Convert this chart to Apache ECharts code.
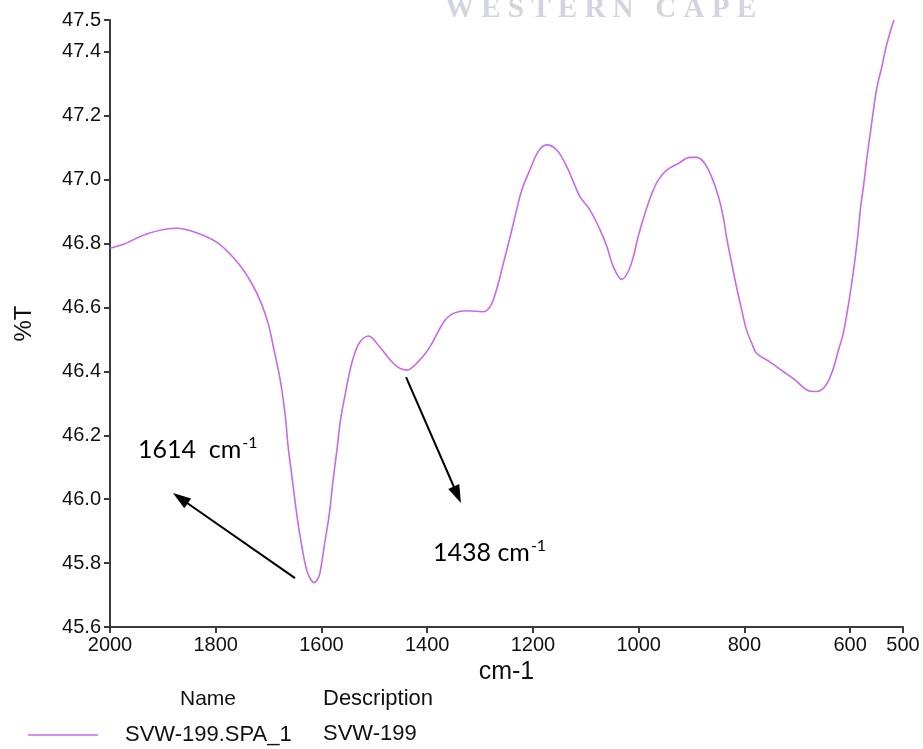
<!DOCTYPE html>
<html>
<head>
<meta charset="utf-8">
<title>SVW-199 FTIR spectrum</title>
<script src="https://cdn.jsdelivr.net/npm/echarts@6/dist/echarts.min.js"></script>
<style>
  html, body { margin: 0; padding: 0; background: #ffffff; }
  #chart { width: 923px; height: 749px; }
</style>
</head>
<body>
<div id="chart"></div>
<script>
// Wavenumbers (cm-1), high to low
const wavenumbers = [
  2000, 1972, 1928, 1874, 1833, 1795, 1757, 1732, 1713, 1700,
  1691, 1678, 1669, 1663, 1655, 1647, 1637, 1628, 1620, 1614,
  1608, 1603, 1595, 1585, 1578, 1570, 1564, 1556, 1546, 1537,
  1527, 1511, 1490, 1470, 1454, 1439, 1414, 1395, 1366, 1347,
  1325, 1294, 1281, 1269, 1256, 1243, 1234, 1221, 1206, 1190,
  1174, 1155, 1136, 1111, 1092, 1073, 1060, 1048, 1032, 1020,
  1010, 1001, 988, 975, 963, 947, 925, 903, 890, 875,
  862, 849, 840, 834, 824, 815, 805, 796, 786, 777,
  752, 726, 704, 682, 663, 648, 635, 622, 613, 605,
  597, 591, 585, 580, 574, 568, 561, 555, 549, 540,
  532, 525, 517
];

// Transmittance (%T) at each wavenumber
const transmittance = [
  46.786, 46.800, 46.832, 46.848, 46.832, 46.801, 46.738, 46.676, 46.610, 46.545,
  46.477, 46.373, 46.269, 46.164, 46.060, 45.956, 45.851, 45.778, 45.748, 45.739,
  45.748, 45.768, 45.851, 45.956, 46.060, 46.164, 46.248, 46.321, 46.404, 46.457,
  46.493, 46.511, 46.477, 46.436, 46.412, 46.404, 46.436, 46.477, 46.561, 46.584,
  46.590, 46.587, 46.603, 46.655, 46.738, 46.822, 46.884, 46.968, 47.030, 47.088,
  47.109, 47.093, 47.041, 46.947, 46.905, 46.843, 46.790, 46.728, 46.688, 46.712,
  46.759, 46.822, 46.895, 46.957, 46.999, 47.030, 47.051, 47.070, 47.070, 47.051,
  47.009, 46.947, 46.884, 46.822, 46.738, 46.665, 46.592, 46.530, 46.488, 46.457,
  46.430, 46.399, 46.373, 46.342, 46.337, 46.352, 46.394, 46.467, 46.519, 46.592,
  46.676, 46.749, 46.832, 46.916, 46.989, 47.072, 47.156, 47.229, 47.291, 47.354,
  47.416, 47.458, 47.500
];

// Axis tick values
const xTicks = [2000, 1800, 1600, 1400, 1200, 1000, 800, 600, 500];
const yTickStep = 0.2;

// Peak call-outs: label anchor, arrow tail and arrow head centre in data units
const peakLabels = [
  { main: '1614  cm', at: [1947, 46.154] },
  { main: '1438 cm',  at: [1389, 45.832] }
];
const peakArrows = [
  { from: [1650, 45.753], to: [1867, 46.003] },
  { from: [1440, 46.382], to: [1343, 46.014] }
];

const seriesName = 'SVW-199.SPA_1';
const seriesDescription = 'SVW-199';

const spectrum = wavenumbers.map((w, i) => [w, transmittance[i]]);

const chart = echarts.init(document.getElementById('chart'), null, { renderer: 'canvas' });

const axisColor = '#3a3a3a';
const labelFont = 'Liberation Sans, Arial, sans-serif';
const noteFont = 'Lato, Open Sans, sans-serif';
const lineColor = '#c86ae8';

chart.setOption({
  animation: false,
  backgroundColor: '#ffffff',
  grid: { left: 110, right: 20, top: 20, bottom: 122, containLabel: false, outerBoundsMode: 'none' },
  xAxis: {
    type: 'value',
    inverse: true,
    min: 500,
    max: 2000,
    name: 'cm-1',
    nameLocation: 'middle',
    nameGap: 31,
    nameTextStyle: { fontFamily: labelFont, fontSize: 25, color: '#111' },
    axisLine: { show: true, onZero: false, lineStyle: { color: axisColor, width: 2 } },
    axisTick: { show: true, length: 6, customValues: xTicks, lineStyle: { color: axisColor, width: 2 } },
    axisLabel: {
      customValues: xTicks,
      margin: 8,
      fontFamily: labelFont,
      fontSize: 20,
      color: '#111',
      formatter: v => String(v)
    },
    splitLine: { show: false }
  },
  yAxis: {
    type: 'value',
    min: 45.6,
    max: 47.5,
    interval: yTickStep,
    name: '%T',
    nameLocation: 'middle',
    nameRotate: 90,
    nameGap: 74,
    nameTextStyle: { fontFamily: labelFont, fontSize: 24, color: '#111' },
    axisLine: { show: true, onZero: false, lineStyle: { color: axisColor, width: 2 } },
    axisTick: { show: true, length: 6, lineStyle: { color: axisColor, width: 2 } },
    axisLabel: {
      margin: 9,
      fontFamily: labelFont,
      fontSize: 20,
      color: '#111',
      formatter: v => v.toFixed(1)
    },
    splitLine: { show: false }
  },
  legend: {
    left: 28,
    top: 724,
    padding: 0,
    icon: 'rect',
    itemWidth: 70,
    itemHeight: 1.5,
    selectedMode: false,
    data: [seriesName],
    textStyle: { fontFamily: labelFont, fontSize: 22, color: '#111', padding: [0, 0, 0, 22] }
  },
  series: [{
    name: seriesName,
    type: 'line',
    data: spectrum,
    smooth: 0.35,
    symbol: 'none',
    lineStyle: { color: lineColor, width: 1.6 },
    itemStyle: { color: lineColor },
    markLine: {
      silent: true,
      symbol: ['none', 'triangle'],
      symbolSize: [12, 18],
      label: { show: false },
      lineStyle: { color: '#000', width: 2, type: 'solid' },
      emphasis: { disabled: true },
      data: peakArrows.map(a => [{ coord: a.from }, { coord: a.to }])
    },
    markPoint: {
      silent: true,
      symbol: 'circle',
      symbolSize: 0,
      data: peakLabels.map(p => ({
        coord: p.at,
        label: {
          show: true,
          position: 'right',
          distance: 0,
          formatter: '{a|' + p.main + '}{b|-1}',
          rich: {
            a: { fontFamily: noteFont, fontSize: 25, color: '#000' },
            b: { fontFamily: noteFont, fontSize: 16, color: '#000', padding: [0, 0, 14, 1] }
          }
        }
      }))
    }
  }],
  graphic: [
    {
      type: 'text', left: 445, top: -5, silent: true,
      style: {
        text: 'W E S T E R N   C A P E',
        font: 'bold 29px "Liberation Serif", "DejaVu Serif", serif',
        fill: '#d3d4e2'
      }
    },
    {
      type: 'text', x: 208, y: 699, silent: true,
      style: { text: 'Name', font: '21px ' + labelFont, fill: '#111', align: 'center', verticalAlign: 'middle' }
    },
    {
      type: 'text', x: 323, y: 699, silent: true,
      style: { text: 'Description', font: '22px ' + labelFont, fill: '#111', align: 'left', verticalAlign: 'middle' }
    },
    {
      type: 'text', x: 323, y: 734, silent: true,
      style: { text: seriesDescription, font: '22px ' + labelFont, fill: '#111', align: 'left', verticalAlign: 'middle' }
    }
  ]
});
</script>
</body>
</html>
